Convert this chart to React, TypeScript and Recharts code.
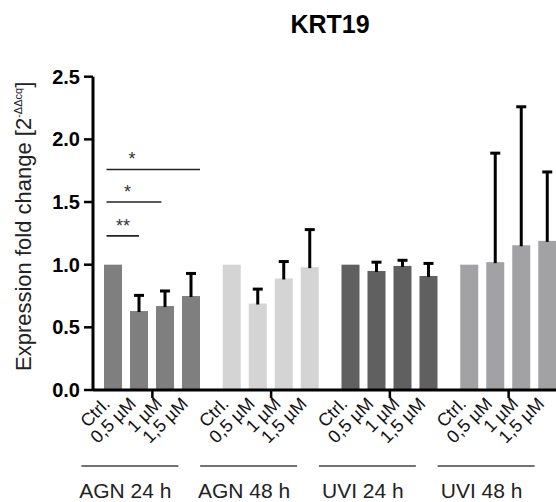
import { BarChart, Bar, XAxis, YAxis } from "recharts";

const groups = ["AGN 24 h", "AGN 48 h", "UVI 24 h", "UVI 48 h"];
const groupColors = ["#7f7f7f", "#d4d4d4", "#606060", "#a2a2a5"];
const doses = ["Ctrl.", "0,5 µM", "1 µM", "1,5 µM"];

// mean fold change, one value per group
const ctrl = [1.0, 1.0, 1.0, 1.0];
const dose05 = [0.63, 0.69, 0.95, 1.02];
const dose1 = [0.67, 0.89, 0.99, 1.155];
const dose15 = [0.75, 0.98, 0.91, 1.19];

// upper error (SD)
const err05 = [0.125, 0.115, 0.07, 0.87];
const err1 = [0.12, 0.135, 0.045, 1.105];
const err15 = [0.18, 0.3, 0.1, 0.55];

// significance vs Ctrl. in AGN 24 h
const sigLevels = [1.23, 1.5, 1.76];
const sigMarks = ["**", "*", "*"];
const sigTarget = [1, 2, 3];

const yTicks = [0, 0.5, 1, 1.5, 2, 2.5];

const FONT = "'Liberation Sans', Arial, Helvetica, sans-serif";
const BAR_GAP = 8;

const data = groups.map((g, i) => ({
  group: g,
  color: groupColors[i],
  ctrl: ctrl[i],
  d05: dose05[i],
  d1: dose1[i],
  d15: dose15[i],
  e05: err05[i],
  e1: err1[i],
  e15: err15[i],
}));

const series = [
  { key: "ctrl", err: null, label: doses[0] },
  { key: "d05", err: "e05", label: doses[1] },
  { key: "d1", err: "e1", label: doses[2] },
  { key: "d15", err: "e15", label: doses[3] },
];

const sigEnd = [0.5, 0.3, 1.0];

function renderBar(props: any, s: { key: string; err: string | null; label: string }) {
  const { x, y, width, height, payload, index } = props;
  const v = payload[s.key];
  const perUnit = v ? height / v : 0;
  const base = y + height;
  const cx = x + width / 2;
  const err = s.err ? payload[s.err] : 0;
  const top = y - err * perUnit;
  const lx = cx - 2;
  const ly = base + 15;
  const pitch = width + BAR_GAP;

  return (
    <g>
      <rect x={x} y={y} width={width} height={height} fill={payload.color} />
      {err > 0 && (
        <g stroke="#000" strokeWidth={3}>
          <line x1={cx} x2={cx} y1={y + 1} y2={top} />
          <line x1={cx - 5} x2={cx + 5} y1={top} y2={top} />
        </g>
      )}
      <text
        x={lx}
        y={ly}
        transform={`rotate(-45 ${lx} ${ly})`}
        textAnchor="end"
        fontSize={18}
        fontFamily={FONT}
        fill="#111"
      >
        {s.label}
      </text>
      {s.key === "ctrl" && index === 0 &&
        sigLevels.map((lvl, j) => {
          const k = sigTarget[j];
          const sy = base - lvl * perUnit;
          const x1 = x + 2.5;
          const x2 = x + k * pitch + width * sigEnd[k - 1];
          return (
            <g key={j}>
              <line x1={x1} x2={x2} y1={sy} y2={sy} stroke="#222" strokeWidth={1.6} />
              <text
                x={x1 + 12 + 4.5 * k}
                y={sy - 4}
                textAnchor="middle"
                fontSize={18}
                fontFamily={FONT}
                fill="#333"
              >
                {sigMarks[j]}
              </text>
            </g>
          );
        })}
    </g>
  );
}

const GroupTick = (props: any) => {
  const { x, y, payload } = props;
  return (
    <g>
      <line x1={x - 71} x2={x + 26} y1={y + 66} y2={y + 66} stroke="#444" strokeWidth={1.5} />
      <text x={x - 27} y={y + 98} textAnchor="middle" fontSize={21} fontFamily={FONT} fill="#222">
        {payload.value}
      </text>
    </g>
  );
};

const YLabel = (props: any) => {
  const vb = props.viewBox || { x: 0, y: 76.7, width: 93, height: 313.3 };
  const cx = vb.x + 31;
  const cy = vb.y + vb.height / 2 - 7;
  return (
    <text
      x={cx}
      y={cy}
      transform={`rotate(-90 ${cx} ${cy})`}
      textAnchor="middle"
      fontSize={22}
      fontFamily={FONT}
      fill="#222"
    >
      Expression fold change [2
      <tspan dy={-9} fontSize={11}>-ΔΔcq</tspan>
      <tspan dy={9}>]</tspan>
    </text>
  );
};

export default function App() {
  return (
    <div
      style={{
        position: "absolute",
        left: 0,
        top: 0,
        width: 556,
        height: 502,
        overflow: "hidden",
        background: "#fff",
        fontFamily: FONT,
      }}
    >
      <div
        style={{
          position: "absolute",
          left: 280,
          top: 12,
          width: 100,
          textAlign: "center",
          fontSize: 25,
          lineHeight: "25px",
          fontWeight: "bold",
          color: "#000",
        }}
      >
        KRT19
      </div>
      <BarChart
        width={568}
        height={502}
        data={data}
        margin={{ top: 76.7, right: 0, bottom: 0, left: 0 }}
        barGap={BAR_GAP}
        barSize={18}
      >
        <XAxis
          dataKey="group"
          height={112}
          axisLine={{ stroke: "#000", strokeWidth: 3 }}
          tickLine={{ stroke: "#000", strokeWidth: 2.5 }}
          tickSize={8}
          tick={<GroupTick />}
          interval={0}
        />
        <YAxis
          width={93}
          domain={[0, 2.5]}
          ticks={yTicks}
          tickFormatter={(v: number) => v.toFixed(1)}
          axisLine={{ stroke: "#000", strokeWidth: 3 }}
          tickLine={{ stroke: "#000", strokeWidth: 2.5 }}
          tickSize={9}
          tickMargin={4}
          tick={{ fontSize: 20, fontWeight: "bold", fill: "#000", fontFamily: FONT }}
          label={{ content: <YLabel /> }}
        />
        {series.map((s) => (
          <Bar
            key={s.key}
            dataKey={s.key}
            isAnimationActive={false}
            shape={(p: any) => renderBar(p, s)}
          />
        ))}
      </BarChart>
    </div>
  );
}
